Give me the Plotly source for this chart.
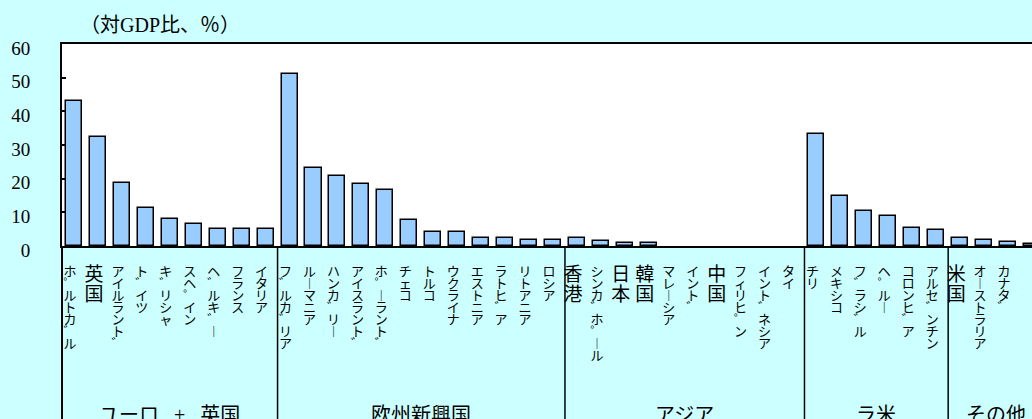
import unicodedata
import plotly.graph_objects as go

# 国・地域名（グループ順）
euro_uk_names = ["ポルトガル", "英国", "アイルランド", "ドイツ", "ギリシャ", "スペイン",
                 "ベルギー", "フランス", "イタリア"]
em_europe_names = ["ブルガリア", "ルーマニア", "ハンガリー", "アイスランド", "ポーランド",
                   "チェコ", "トルコ", "ウクライナ", "エストニア", "ラトビア", "リトアニア", "ロシア"]
asia_names = ["香港", "シンガポール", "日本", "韓国", "マレーシア", "インド", "中国",
              "フィリピン", "インドネシア", "タイ"]
latam_names = ["チリ", "メキシコ", "ブラジル", "ペルー", "コロンビア", "アルゼンチン"]
other_names = ["米国", "オーストラリア", "カナダ", "ニュージーランド"]

# 対GDP比（%）
euro_uk_vals = [43.0, 32.3, 18.6, 11.4, 7.9, 6.6, 5.0, 5.0, 5.0]
em_europe_vals = [51.0, 23.2, 20.9, 18.5, 16.7, 7.8, 4.3, 4.3, 2.5, 2.5, 1.9, 1.9]
asia_vals = [2.5, 1.4, 0.8, 0.8, 0.0, 0.0, 0.0, 0.0, 0.0, 0.0]
latam_vals = [33.3, 14.9, 10.3, 8.9, 5.4, 4.9]
other_vals = [2.4, 1.9, 1.3, 0.7]

group_titles = ["ユーロ\u00a0\u00a0\u00a0+\u00a0\u00a0\u00a0英国", "欧州新興国", "アジア", "ラ米", "その他"]
y_ticks = [0, 10, 20, 30, 40, 50, 60]

groups = [euro_uk_names, em_europe_names, asia_names, latam_names, other_names]
group_vals = [euro_uk_vals, em_europe_vals, asia_vals, latam_vals, other_vals]

names = [n for g in groups for n in g]
values = [v for g in group_vals for v in g]

SERIF = "Liberation Serif, Noto Sans CJK JP, serif"
CJK = "Noto Sans CJK JP, sans-serif"


def vertical(label, glyph_px):
    """Stack characters top-to-bottom; voiced marks get their own cell."""
    s = unicodedata.normalize("NFD", label)
    s = s.replace("\u3099", "\u309b").replace("\u309a", "\u309c").replace("ー", "︱")
    return "<br>".join(f'<span style="font-size:{glyph_px}px">{c}</span>' for c in s)


def is_kanji(label):
    return all("\u4e00" <= c <= "\u9fff" for c in label)


kana_idx = [i for i, n in enumerate(names) if not is_kanji(n)]
kanji_idx = [i for i, n in enumerate(names) if is_kanji(n)]

x_range = [-0.5, 40.0]
bar_style = dict(color="#99CCFF", line=dict(color="black", width=1.5))


def bar_y(i):
    # 値ゼロの国は棒を描かない
    return values[i] if values[i] > 0 else None


fig = go.Figure()
# カタカナ表記の国（下軸 x）
fig.add_trace(go.Bar(
    x=kana_idx, y=[bar_y(i) for i in kana_idx], width=0.67,
    marker=bar_style, hovertext=[names[i] for i in kana_idx], hoverinfo="text+y",
    xaxis="x", yaxis="y",
))
# 漢字表記の国（重ね軸 x2、文字を大きく）
fig.add_trace(go.Bar(
    x=kanji_idx, y=[bar_y(i) for i in kanji_idx], width=0.67,
    marker=bar_style, hovertext=[names[i] for i in kanji_idx], hoverinfo="text+y",
    xaxis="x2", yaxis="y",
))

# グループ境界（軸の下へ延長）
bounds = []
start = 0
for g in groups[:-1]:
    start += len(g)
    bounds.append(start - 0.5)

shapes = [dict(type="line", xref="paper", yref="paper", x0=0, x1=0, y0=0, y1=-1.0,
               line=dict(color="black", width=2))]
for b in bounds:
    shapes.append(dict(type="line", xref="x", yref="paper", x0=b, x1=b, y0=0, y1=-1.0,
                       line=dict(color="black", width=1.5)))

annotations = []
start = 0
for title, g in zip(group_titles, groups):
    center = start + (len(g) - 1) / 2
    annotations.append(dict(x=center, xref="x", y=-0.772, yref="paper", text=title,
                            showarrow=False, xanchor="center", yanchor="top",
                            font=dict(family=SERIF, size=20, color="black")))
    start += len(g)

annotations.append(dict(x=0.017, xref="paper", y=1.094, yref="paper",
                        text="（対GDP比、％）", showarrow=False,
                        xanchor="left", yanchor="middle",
                        font=dict(family=SERIF, size=20, color="black")))

fig.update_layout(
    width=1032, height=419,
    margin=dict(l=62, r=0, t=44, b=173, pad=0),
    paper_bgcolor="#CCFFFF", plot_bgcolor="white",
    showlegend=False, bargap=0,
    shapes=shapes, annotations=annotations,
    xaxis=dict(
        range=x_range, tickmode="array", tickvals=kana_idx,
        ticktext=[vertical(names[i], 13) for i in kana_idx],
        tickfont=dict(family=CJK, size=9.2, color="black"),
        ticks="", ticklabelstandoff=17, ticklabelshift=-4,
        showline=True, mirror=True, linecolor="black", linewidth=2,
        showgrid=False, zeroline=False, fixedrange=True,
    ),
    xaxis2=dict(
        overlaying="x", anchor="y", side="bottom",
        range=x_range, tickmode="array", tickvals=kanji_idx,
        ticktext=[vertical(names[i], 19) for i in kanji_idx],
        tickfont=dict(family=CJK, size=15.4, color="black"),
        ticks="", ticklabelstandoff=19, ticklabelshift=-4,
        showline=False, showgrid=False, zeroline=False, fixedrange=True,
    ),
    yaxis=dict(
        range=[0, 60], tickmode="array", tickvals=y_ticks,
        ticks="inside", ticklen=4, tickwidth=1.5, tickcolor="black",
        tickfont=dict(family=SERIF, size=19, color="black"),
        ticklabelstandoff=26, ticklabelshift=4,
        showline=True, linecolor="black", linewidth=2,
        showgrid=False, zeroline=False, fixedrange=True,
    ),
)

fig.write_html("out.html")
